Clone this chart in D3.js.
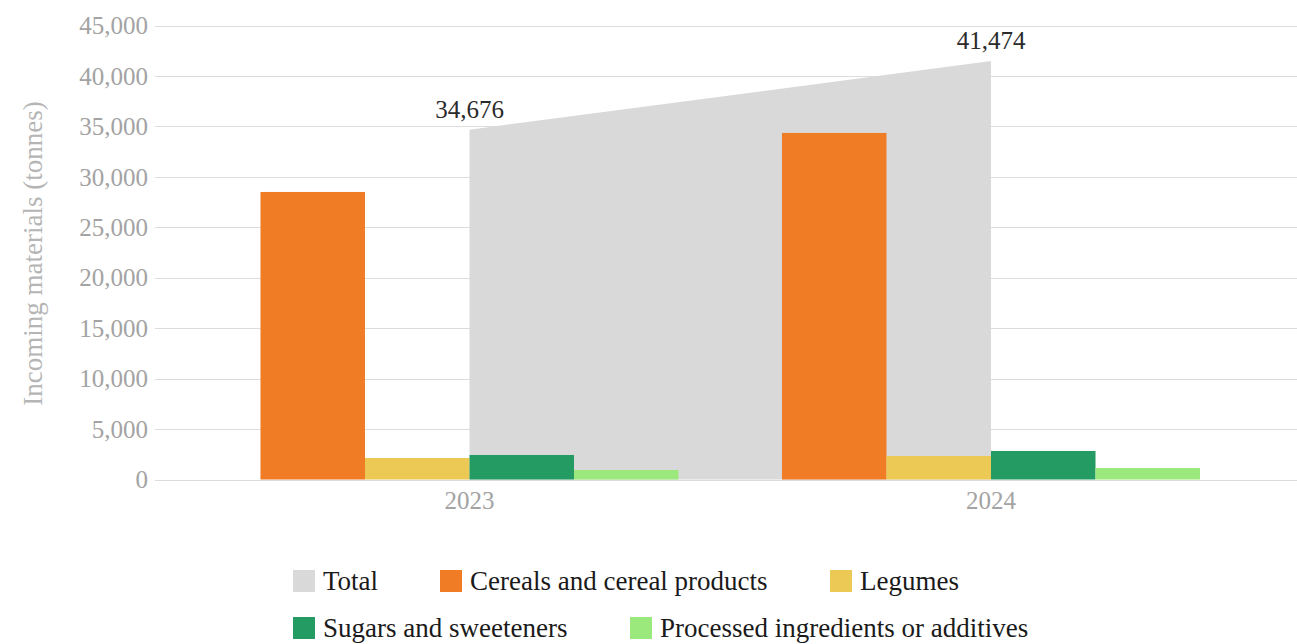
<!DOCTYPE html>
<html>
<head>
<meta charset="utf-8">
<script src="https://cdn.jsdelivr.net/npm/d3@7"></script>
<style>
  html, body { margin: 0; padding: 0; background: #fff; }
</style>
</head>
<body>
<svg id="chart" width="1297" height="644"></svg>
<script>
// Incoming materials by category, tonnes
const years = ["2023", "2024"];
const seriesNames = ["Cereals and cereal products", "Legumes", "Sugars and sweeteners", "Processed ingredients or additives"];
const cereals = [28500, 34350];
const legumes = [2130, 2330];
const sugars = [2430, 2830];
const processed = [940, 1140];
const totals = [34676, 41474];
const yTicks = [0, 5000, 10000, 15000, 20000, 25000, 30000, 35000, 40000, 45000];

const colors = {
  "Total": "#d9d9d9",
  "Cereals and cereal products": "#f07c26",
  "Legumes": "#ecc854",
  "Sugars and sweeteners": "#249b62",
  "Processed ingredients or additives": "#9be87d"
};

const FONT = "'Liberation Serif', 'DejaVu Serif', serif";

const seriesValues = [cereals, legumes, sugars, processed];
const rows = years.map((yr, i) => ({
  year: yr,
  values: seriesNames.map((s, k) => ({ name: s, value: seriesValues[k][i] }))
}));

const svg = d3.select("#chart").attr("font-family", FONT);
const gridLeft = 155, gridRight = 1297;

const y = d3.scaleLinear().domain([0, 45000]).range([479.5, 25.5]);
const x0 = d3.scaleBand().domain(years).range([208.75, 1251.75]).padding(0);
const x1 = d3.scaleBand().domain(seriesNames).range([0, x0.bandwidth()])
  .paddingInner(0).paddingOuter(0.495);

// Gridlines
svg.append("g").selectAll("line").data(yTicks).join("line")
  .attr("x1", gridLeft).attr("x2", gridRight)
  .attr("y1", d => Math.round(y(d)) + 0.5).attr("y2", d => Math.round(y(d)) + 0.5)
  .attr("stroke", "#dcdcdc").attr("stroke-width", 1.2);

// Y tick labels
const fmt = d3.format(",");
svg.append("g").selectAll("text").data(yTicks).join("text")
  .attr("x", 148).attr("y", d => y(d)).attr("dy", "0.35em")
  .attr("text-anchor", "end").attr("font-size", 25).attr("fill", "#a3a3a3")
  .attr("font-family", FONT)
  .text(d => fmt(d));

// Y axis title
svg.append("text")
  .attr("transform", `translate(42, ${(y(0) + y(45000)) / 2 + 1}) rotate(-90)`)
  .attr("text-anchor", "middle").attr("font-size", 27).attr("fill", "#b5b5b5")
  .attr("font-family", FONT)
  .text("Incoming materials (tonnes)");

// Total area between category centres
const cx = d => x0(d) + x0.bandwidth() / 2;
const area = d3.area()
  .x((d, i) => cx(years[i]))
  .y0(y(0)).y1(d => y(d));
svg.append("path").datum(totals)
  .attr("d", area).attr("fill", colors["Total"]);

// Grouped bars
svg.append("g").selectAll("g").data(rows).join("g")
  .attr("transform", d => `translate(${x0(d.year)},0)`)
  .selectAll("rect").data(d => d.values).join("rect")
  .attr("x", d => x1(d.name)).attr("width", x1.bandwidth())
  .attr("y", d => y(d.value)).attr("height", d => y(0) - y(d.value))
  .attr("fill", d => colors[d.name]);

// Total value labels
svg.append("g").selectAll("text").data(totals).join("text")
  .attr("x", (d, i) => cx(years[i])).attr("y", d => y(d) - 12)
  .attr("text-anchor", "middle").attr("font-size", 25).attr("fill", "#2b2b2b")
  .attr("font-family", FONT)
  .text(d => fmt(d));

// X category labels
svg.append("g").selectAll("text").data(years).join("text")
  .attr("x", d => cx(d)).attr("y", 500).attr("dy", "0.35em")
  .attr("text-anchor", "middle").attr("font-size", 25).attr("fill", "#a3a3a3")
  .attr("font-family", FONT)
  .text(d => d);

// Legend
const legendItems = [
  { name: "Total", col: 293, row: 581 },
  { name: "Cereals and cereal products", col: 440, row: 581 },
  { name: "Legumes", col: 830, row: 581 },
  { name: "Sugars and sweeteners", col: 293, row: 628 },
  { name: "Processed ingredients or additives", col: 630, row: 628 }
];
const lg = svg.append("g").selectAll("g").data(legendItems).join("g")
  .attr("transform", d => `translate(${d.col},${d.row})`);
lg.append("rect").attr("x", 0).attr("y", -11).attr("width", 22).attr("height", 22)
  .attr("fill", d => colors[d.name]);
lg.append("text").attr("x", 30).attr("y", 0).attr("dy", "0.35em")
  .attr("font-size", 27).attr("fill", "#1a1a1a")
  .attr("font-family", FONT)
  .text(d => d.name);
</script>
</body>
</html>
